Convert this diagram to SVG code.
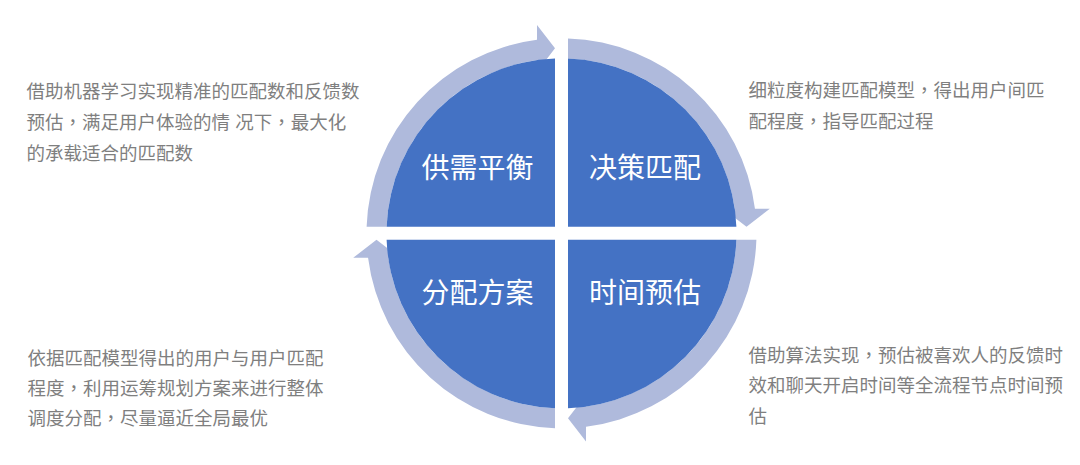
<svg xmlns="http://www.w3.org/2000/svg" xmlns:xlink="http://www.w3.org/1999/xlink" width="1080" height="465" viewBox="0 0 1080 465">
<style>
.quad{fill:#4472C4}
.ring{fill:#AFBADC}
.lbl{font-family:"Liberation Sans","Noto Sans CJK SC",sans-serif;font-size:28px;fill:#ffffff;text-anchor:middle}
.desc{font-family:"Liberation Sans","Noto Sans CJK SC",sans-serif;font-size:18.5px;fill:#7f7f7f}
.cm{font-family:"Noto Sans CJK TC",sans-serif}
</style>
<defs>
<path id="quadShape" d="M -6.5,-6.5 L -174.88,-6.5 A 175 175 0 0 1 -6.5,-174.88 Z"/>
<path id="arrowShape" d="M -194.89,-6.5 A 195 195 0 0 1 -24.5,-193.45 L -24.5,-208.3 L -6.5,-185 L -24.5,-161.6 L -24.5,-173.28 A 175 175 0 0 0 -174.88,-6.5 Z"/>
</defs>
<rect width="1080" height="465" fill="#ffffff"/>
<g id="connectors" transform="translate(561.5,233.3)">
<use xlink:href="#arrowShape" href="#arrowShape" class="ring"/>
<use xlink:href="#arrowShape" href="#arrowShape" class="ring" transform="rotate(90)"/>
<use xlink:href="#arrowShape" href="#arrowShape" class="ring" transform="rotate(180)"/>
<use xlink:href="#arrowShape" href="#arrowShape" class="ring" transform="rotate(270)"/>
</g>
<g id="node-supply">
<use xlink:href="#quadShape" href="#quadShape" class="quad" transform="translate(561.5,233.3)"/>
<text class="lbl" x="477.5" y="178">供需平衡</text>
</g>
<g id="node-decision">
<use xlink:href="#quadShape" href="#quadShape" class="quad" transform="translate(561.5,233.3) rotate(90)"/>
<text class="lbl" x="645" y="178">决策匹配</text>
</g>
<g id="node-time">
<use xlink:href="#quadShape" href="#quadShape" class="quad" transform="translate(561.5,233.3) rotate(180)"/>
<text class="lbl" x="645" y="303">时间预估</text>
</g>
<g id="node-plan">
<use xlink:href="#quadShape" href="#quadShape" class="quad" transform="translate(561.5,233.3) rotate(270)"/>
<text class="lbl" x="477.5" y="303">分配方案</text>
</g>
<g id="desc-supply">
<text class="desc" x="26.5" y="97.5">借助机器学习实现精准的匹配数和反馈数</text>
<text class="desc" x="26.5" y="128.5">预估<tspan class="cm">，</tspan>满足用户体验的情 况下<tspan class="cm">，</tspan>最大化</text>
<text class="desc" x="26.5" y="160">的承载适合的匹配数</text>
</g>
<g id="desc-decision">
<text class="desc" x="748.5" y="97">细粒度构建匹配模型<tspan class="cm">，</tspan>得出用户间匹</text>
<text class="desc" x="748.5" y="128">配程度<tspan class="cm">，</tspan>指导匹配过程</text>
</g>
<g id="desc-plan">
<text class="desc" x="27.5" y="364.5">依据匹配模型得出的用户与用户匹配</text>
<text class="desc" x="27.5" y="394.5">程度<tspan class="cm">，</tspan>利用运筹规划方案来进行整体</text>
<text class="desc" x="27.5" y="425">调度分配<tspan class="cm">，</tspan>尽量逼近全局最优</text>
</g>
<g id="desc-time">
<text class="desc" x="748.5" y="362">借助算法实现<tspan class="cm">，</tspan>预估被喜欢人的反馈时</text>
<text class="desc" x="748.5" y="392">效和聊天开启时间等全流程节点时间预</text>
<text class="desc" x="748.5" y="423">估</text>
</g>
</svg>
